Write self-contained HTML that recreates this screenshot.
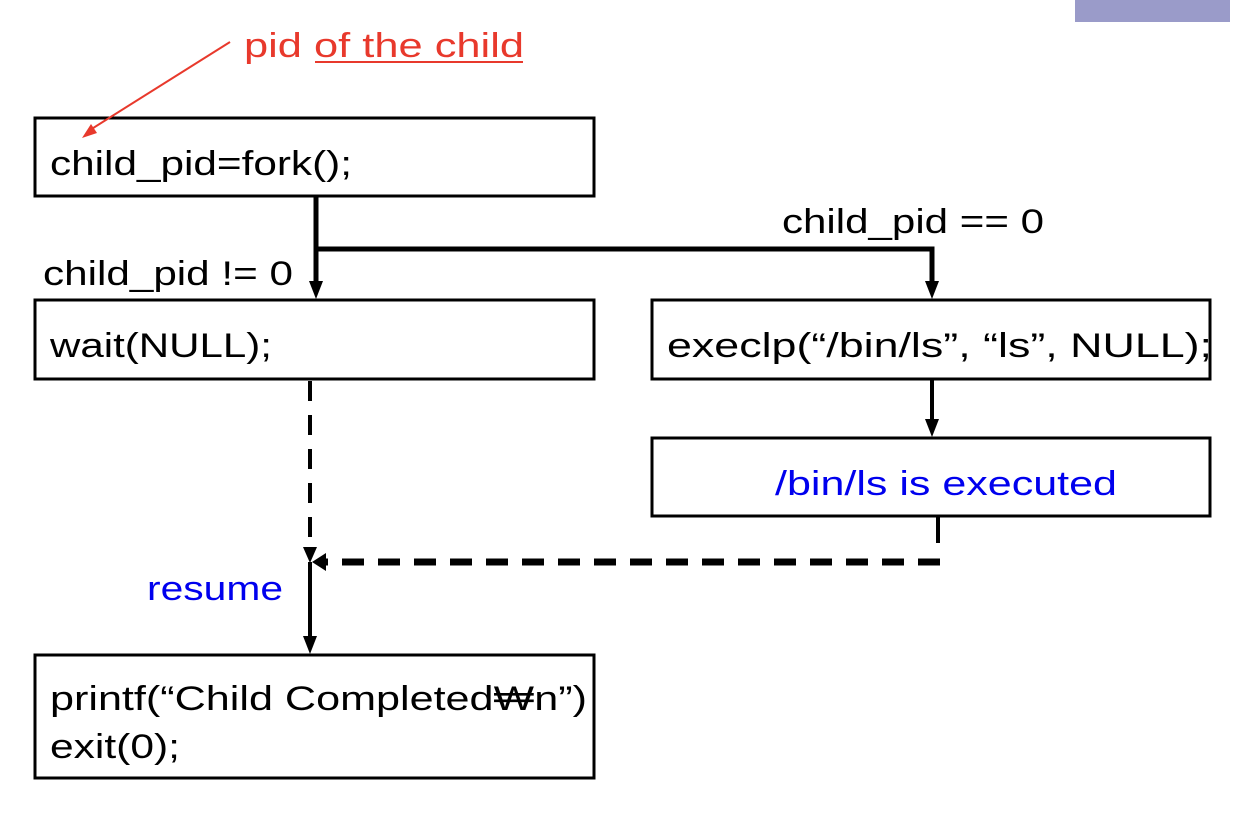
<!DOCTYPE html>
<html><head><meta charset="utf-8"><style>html,body{margin:0;padding:0;background:#fff;}svg{display:block}</style></head>
<body>
<svg width="1250" height="814" xmlns="http://www.w3.org/2000/svg" font-family="Liberation Sans, sans-serif" font-size="34">
<rect x="1075" y="0" width="155" height="22" fill="#9a9bc9"/>
<!-- boxes -->
<g fill="#fff" stroke="#000" stroke-width="3">
<rect x="35" y="118" width="559" height="78"/>
<rect x="35" y="300" width="559" height="79"/>
<rect x="652" y="300" width="558" height="79"/>
<rect x="652" y="438" width="558" height="78"/>
<rect x="35" y="655" width="559" height="123"/>
</g>
<!-- red annotation -->
<text x="244" y="57" fill="#e8392c" textLength="280" lengthAdjust="spacingAndGlyphs">pid of the child</text>
<line x1="315" y1="62" x2="523" y2="62" stroke="#e8392c" stroke-width="2"/>
<line x1="230" y1="42" x2="90" y2="130" stroke="#e8392c" stroke-width="2"/>
<path d="M82,138 L91,124 L97,133 z" fill="#e8392c"/>
<text x="50" y="175" textLength="302" lengthAdjust="spacingAndGlyphs">child_pid=fork();</text>
<text x="50" y="357" textLength="222" lengthAdjust="spacingAndGlyphs">wait(NULL);</text>
<text x="667" y="357" textLength="545" lengthAdjust="spacingAndGlyphs">execlp(“/bin/ls”, “ls”, NULL);</text>
<text x="775" y="495" fill="#0000ee" textLength="342" lengthAdjust="spacingAndGlyphs">/bin/ls is executed</text>
<text x="50" y="710" textLength="537" lengthAdjust="spacingAndGlyphs">printf(“Child Completed₩n”)</text>
<text x="50" y="758" textLength="130" lengthAdjust="spacingAndGlyphs">exit(0);</text>
<text x="43" y="285" textLength="250" lengthAdjust="spacingAndGlyphs">child_pid != 0</text>
<text x="782" y="233" textLength="262" lengthAdjust="spacingAndGlyphs">child_pid == 0</text>
<text x="147" y="600" fill="#0000ee" textLength="136" lengthAdjust="spacingAndGlyphs">resume</text>
<!-- connectors -->
<g stroke="#000" fill="none">
<line x1="316" y1="197" x2="316" y2="285" stroke-width="5"/>
<polyline points="316,249 932,249 932,285" stroke-width="5"/>
<line x1="932" y1="380" x2="932" y2="422" stroke-width="4"/>
<line x1="310" y1="381" x2="310" y2="550" stroke-width="4" stroke-dasharray="20,14"/>
<line x1="938" y1="517" x2="938" y2="543" stroke-width="4"/>
<line x1="940" y1="562" x2="322" y2="562" stroke-width="7" stroke-dasharray="22,14"/>
<line x1="310" y1="562" x2="310" y2="640" stroke-width="4"/>
</g>
<g fill="#000">
<path d="M309,281 L323,281 L316,299 z"/>
<path d="M925,281 L939,281 L932,299 z"/>
<path d="M925,419 L939,419 L932,437 z"/>
<path d="M303,547 L317,547 L310,563 z"/>
<path d="M312,562 L326,553 L326,571 z"/>
<path d="M303,636 L317,636 L310,654 z"/>
</g>
</svg>
</body></html>
